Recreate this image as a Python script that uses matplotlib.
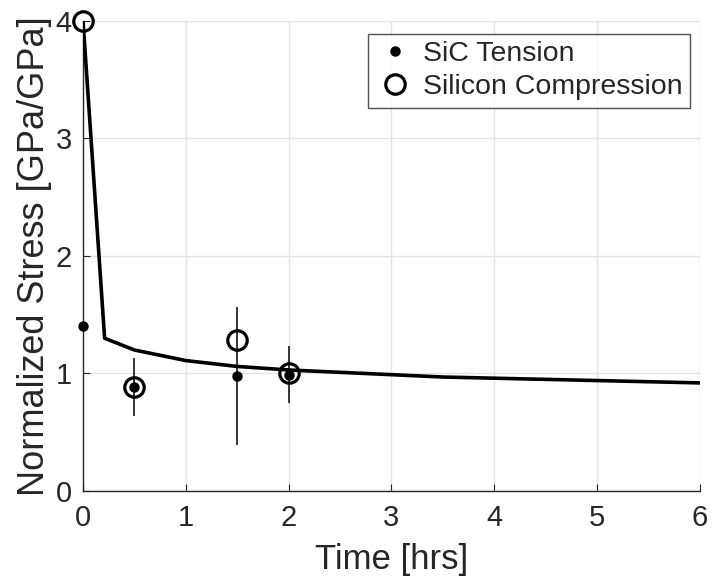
import matplotlib
matplotlib.use("Agg")
import matplotlib.pyplot as plt

plt.rcParams['font.family'] = ['Liberation Sans', 'DejaVu Sans']

# Model curve
curve_t = [0, 0.21, 0.5, 1.0, 1.5, 2.0, 2.5, 3.0, 3.5, 4.0, 4.5, 5.0, 5.5, 6.0]
curve_s = [4.0, 1.30, 1.20, 1.11, 1.06, 1.03, 1.01, 0.99, 0.97, 0.96, 0.95, 0.94, 0.93, 0.92]

# SiC tension data
sic_t = [0, 0.5, 1.5, 2.0]
sic_s = [1.40, 0.885, 0.98, 0.99]
sic_err = [0.0, 0.245, 0.59, 0.24]

# Silicon compression data
si_t = [0, 0.5, 1.5, 2.0]
si_s = [4.0, 0.885, 1.285, 1.0]

xticks = [0, 1, 2, 3, 4, 5, 6]
yticks = [0, 1, 2, 3, 4]

fig = plt.figure(figsize=(7.17, 5.83), dpi=100)
ax = fig.add_axes([0.1158, 0.1578, 0.8602, 0.8062])

tc = '#262626'
ax.plot(curve_t, curve_s, color='black', lw=2.6, zorder=3)
ax.errorbar(sic_t, sic_s, yerr=sic_err, fmt='none', ecolor='black',
            elinewidth=1.1, capsize=0, zorder=4)
h1, = ax.plot(sic_t, sic_s, 'o', color='black', ms=6.5, zorder=4,
              clip_on=False, label='SiC Tension')
h2, = ax.plot(si_t, si_s, 'o', mfc='none', mec='black', ms=14, mew=2.3,
              zorder=5, clip_on=False, label='Silicon Compression')

ax.set_xlim(0, 6)
ax.set_ylim(0, 4)
ax.set_xticks(xticks)
ax.set_yticks(yticks)
ax.grid(True, color='#e3e3e3', lw=1.0)
ax.set_axisbelow(True)
for s in ['top', 'right']:
    ax.spines[s].set_visible(False)
for s in ['left', 'bottom']:
    ax.spines[s].set_color(tc)
    ax.spines[s].set_linewidth(1.0)
ax.tick_params(direction='in', length=5, colors=tc, labelsize=21)
ax.tick_params(axis='x', pad=9)
ax.tick_params(axis='y', pad=8)
ax.set_xlabel('Time [hrs]', fontsize=25, color=tc, labelpad=8)
ax.set_ylabel('Normalized Stress [GPa/GPa]', fontsize=26, color=tc, labelpad=3)

leg = ax.legend(handles=[h1, h2], loc='upper right', bbox_to_anchor=(0.984, 0.972),
                fontsize=20.5, frameon=True, fancybox=False, edgecolor='#262626',
                handletextpad=0.3, borderpad=0.25, labelspacing=0.25,
                handlelength=1.4, borderaxespad=0)
leg.get_frame().set_linewidth(1.0)
for t in leg.get_texts():
    t.set_color(tc)

fig.savefig('out.png', dpi=100)
